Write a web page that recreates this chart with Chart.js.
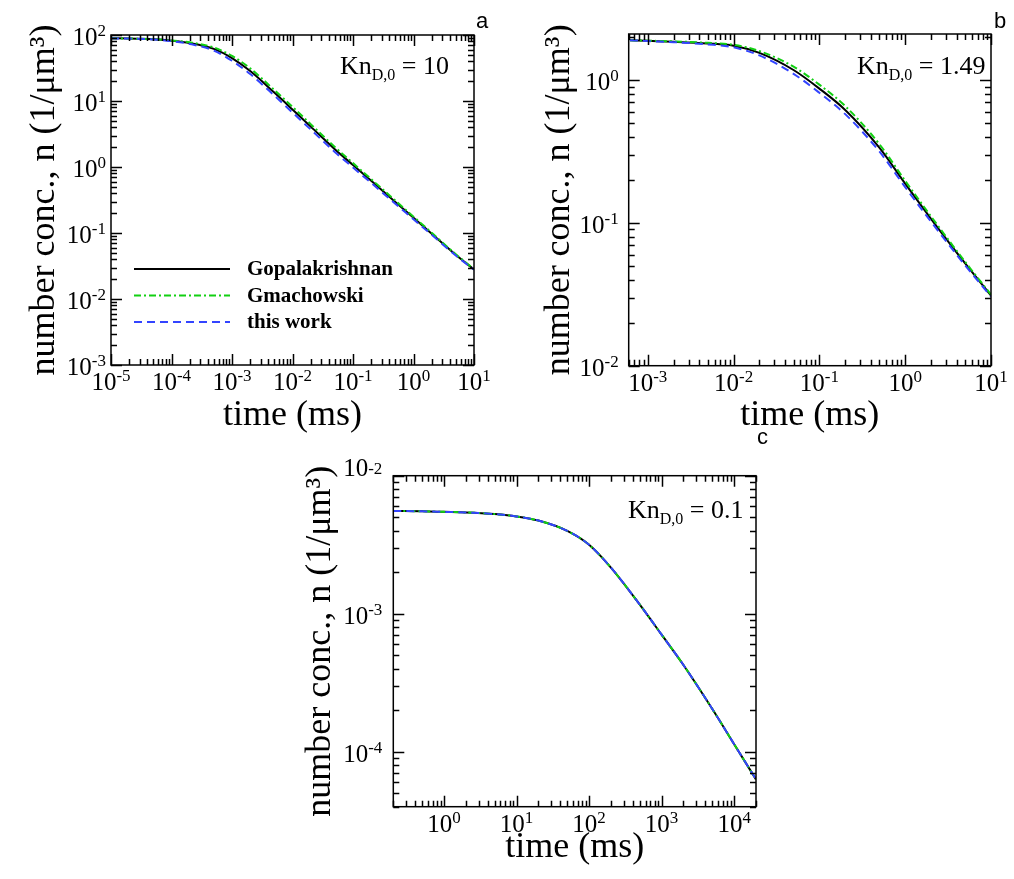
<!DOCTYPE html>
<html>
<head>
<meta charset="utf-8">
<script src="https://cdn.jsdelivr.net/npm/chart.js@4.4.1/dist/chart.umd.min.js"></script>
<style>
  html, body { margin: 0; padding: 0; background: #fff; }
  #wrap { position: relative; width: 1014px; height: 879px; overflow: hidden; }
  canvas { position: absolute; }
</style>
</head>
<body>
<div id="wrap">
  <canvas id="pa" width="507" height="440" style="left:0;top:0"></canvas>
  <canvas id="pb" width="507" height="440" style="left:507px;top:0"></canvas>
  <canvas id="pc" width="510" height="459" style="left:270px;top:420px"></canvas>
</div>
<script>
const SERIF = '"Liberation Serif", "Times New Roman", serif'
const SANS = '"Liberation Sans", Arial, sans-serif'

const seriesNames = ['Gopalakrishnan', 'Gmachowski', 'this work']
const knValues = ['10', '1.49', '0.1']
const panelLetters = ['a', 'b', 'c']

// panel a  (Kn = 10)
const timeA = [1e-5, 2e-5, 5e-5, 1e-4, 2e-4, 5e-4, 1e-3, 2e-3, 5e-3, 1e-2, 2e-2, 5e-2, 0.1, 0.2, 0.5, 1, 2, 5, 10]
const gopA  = [89.1, 88.5, 86.1, 82.0, 75.5, 61.7, 44.7, 28.4, 13.4, 7.43, 4.09, 1.86, 1.07, 0.617, 0.295, 0.17, 0.0977, 0.0468, 0.0280]
const gmaA  = [89.1, 88.5, 86.5, 82.8, 77.4, 64.8, 48.3, 31.2, 14.7, 8.17, 4.46, 2.01, 1.145, 0.654, 0.31, 0.177, 0.1006, 0.0477, 0.0284]
const thisA = [89.1, 88.3, 85.5, 80.8, 73.2, 58.0, 40.7, 25.6, 12.1, 6.69, 3.70, 1.69, 0.984, 0.574, 0.277, 0.1615, 0.0938, 0.0456, 0.0277]
const xTicksA = [-5, -4, -3, -2, -1, 0, 1]
const yTicksA = [-3, -2, -1, 0, 1, 2]

// panel b  (Kn = 1.49)
const timeB = [6.2e-4, 1e-3, 2e-3, 5e-3, 1e-2, 2e-2, 5e-2, 0.1, 0.2, 0.5, 1, 2, 5, 10]
const gopB  = [1.90, 1.88, 1.853, 1.803, 1.738, 1.549, 1.175, 0.871, 0.617, 0.336, 0.188, 0.1067, 0.052, 0.031]
const gmaB  = [1.90, 1.886, 1.864, 1.821, 1.764, 1.595, 1.240, 0.928, 0.657, 0.356, 0.197, 0.111, 0.0533, 0.0315]
const thisB = [1.90, 1.874, 1.840, 1.776, 1.695, 1.487, 1.105, 0.814, 0.577, 0.316, 0.178, 0.1019, 0.0504, 0.0305]
const xTicksB = [-3, -2, -1, 0, 1]
const yTicksB = [-2, -1, 0]

// panel c  (Kn = 0.1) - the three models coincide here
const timeC = [0.2, 0.5, 1, 2, 5, 10, 20, 50, 100, 200, 500, 1000, 2000, 5000, 10000, 20000]
const gopC  = [5.56e-3, 5.52e-3, 5.47e-3, 5.42e-3, 5.27e-3, 5.07e-3, 4.73e-3, 3.98e-3, 3.16e-3, 2.16e-3, 1.164e-3, 7.05e-4, 4.25e-4, 2.04e-4, 1.135e-4, 6.31e-5]
const gmaC  = [5.56e-3, 5.52e-3, 5.47e-3, 5.42e-3, 5.27e-3, 5.07e-3, 4.73e-3, 3.98e-3, 3.16e-3, 2.16e-3, 1.164e-3, 7.05e-4, 4.25e-4, 2.04e-4, 1.135e-4, 6.31e-5]
const thisC = [5.56e-3, 5.52e-3, 5.47e-3, 5.42e-3, 5.27e-3, 5.07e-3, 4.73e-3, 3.98e-3, 3.16e-3, 2.16e-3, 1.164e-3, 7.05e-4, 4.25e-4, 2.04e-4, 1.135e-4, 6.31e-5]
const xTicksC = [0, 1, 2, 3, 4]
const yTicksC = [-4, -3, -2]

const pts = (t, n) => t.map((v, i) => ({ x: v, y: n[i] }))

function logTicks(min, max) {
  const out = []
  for (let k = Math.floor(Math.log10(min)); k <= Math.ceil(Math.log10(max)); k++) {
    for (let m = 1; m < 10; m++) {
      const v = m * Math.pow(10, k)
      if (v >= min * 0.9999 && v <= max * 1.0001) out.push({ v, major: m === 1 })
    }
  }
  return out
}

// "10" with a raised exponent
function powLabel(ctx, x, y, e, align, flat) {
  ctx.textBaseline = 'alphabetic'
  ctx.textAlign = 'left'
  ctx.font = '25px ' + SERIF
  const w1 = ctx.measureText('10').width
  ctx.font = '17px ' + SERIF
  const w2 = ctx.measureText(String(e)).width
  const w = w1 + w2
  const x0 = align === 'center' ? x - w / 2 : x - w
  ctx.font = '25px ' + SERIF
  ctx.fillText('10', x0, y)
  ctx.font = '17px ' + SERIF
  ctx.fillText(String(e), x0 + w1, flat ? y - 2 : y - 9)
}

function knLabel(ctx, x, y, val) {
  ctx.textAlign = 'left'
  ctx.textBaseline = 'alphabetic'
  ctx.font = '26px ' + SERIF
  ctx.fillText('Kn', x, y)
  let w = ctx.measureText('Kn').width
  ctx.font = '16px ' + SERIF
  ctx.fillText('D,0', x + w, y + 6)
  w += ctx.measureText('D,0').width
  ctx.font = '26px ' + SERIF
  ctx.fillText(' = ' + val, x + w, y)
}

const deco = {
  id: 'deco',
  afterDatasetsDraw(chart, args, o) {
    const { ctx, chartArea: a, scales: { x, y } } = chart
    ctx.save()
    ctx.strokeStyle = '#000'
    ctx.lineWidth = 1.5
    ctx.setLineDash([])
    ctx.strokeRect(a.left, a.top, a.right - a.left, a.bottom - a.top)
    ctx.beginPath()
    for (const t of logTicks(x.min, x.max)) {
      const px = Math.round(x.getPixelForValue(t.v)) + 0.5
      const len = t.major ? 11 : 6
      ctx.moveTo(px, a.bottom); ctx.lineTo(px, a.bottom - len)
      ctx.moveTo(px, a.top); ctx.lineTo(px, a.top + len)
    }
    for (const t of logTicks(y.min, y.max)) {
      const py = Math.round(y.getPixelForValue(t.v)) + 0.5
      const len = t.major ? 11 : 6
      ctx.moveTo(a.left, py); ctx.lineTo(a.left + len, py)
      ctx.moveTo(a.right, py); ctx.lineTo(a.right - len, py)
    }
    ctx.stroke()

    ctx.fillStyle = '#000'
    o.xExp.forEach(e => powLabel(ctx, x.getPixelForValue(Math.pow(10, e)), a.bottom + 25, e, 'center'))
    o.yExp.forEach(e => {
      const flat = o.flatExp === e
      powLabel(ctx, a.left - o.yGap, y.getPixelForValue(Math.pow(10, e)) + (flat ? 0 : 10), e, 'right', flat)
    })

    knLabel(ctx, o.kn.x, o.kn.y, o.kn.text)

    ctx.font = '22px ' + SANS
    ctx.textAlign = 'left'
    ctx.textBaseline = 'alphabetic'
    ctx.fillText(o.letter.text, o.letter.x, o.letter.y)

    if (o.legend) {
      const L = o.legend
      chart.data.datasets.forEach((ds, i) => {
        const yy = L.y + i * L.step
        ctx.strokeStyle = ds.borderColor
        ctx.lineWidth = ds.borderWidth
        ctx.setLineDash(ds.borderDash || [])
        ctx.beginPath()
        ctx.moveTo(L.x0, yy); ctx.lineTo(L.x1, yy)
        ctx.stroke()
        ctx.setLineDash([])
        ctx.fillStyle = '#000'
        ctx.font = 'bold 21px ' + SERIF
        ctx.textBaseline = 'middle'
        ctx.fillText(ds.label, L.tx, yy + 1)
      })
    }
    ctx.restore()
  }
}

function panel(id, p) {
  const W = p.W, H = p.H, A = p.area
  return new Chart(document.getElementById(id), {
    type: 'line',
    data: {
      datasets: [
        { label: seriesNames[0], data: pts(p.t, p.gop), borderColor: '#000000', borderWidth: 2, order: 2 },
        { label: seriesNames[1], data: pts(p.t, p.gma), borderColor: '#12d012', borderWidth: 2, borderDash: [7, 3, 2, 3], order: 1 },
        { label: seriesNames[2], data: pts(p.t, p.tw), borderColor: '#3344ff', borderWidth: 2, borderDash: [8, 5], order: 0 }
      ]
    },
    options: {
      responsive: false,
      animation: false,
      events: [],
      elements: {
        point: { radius: 0 },
        line: { cubicInterpolationMode: 'monotone', fill: false }
      },
      layout: { padding: { left: 0, top: A.top, right: W - A.right, bottom: 0 } },
      scales: {
        x: {
          type: 'logarithmic', min: p.xMin, max: p.xMax,
          grid: { display: false }, border: { display: false }, ticks: { display: false },
          title: { display: true, text: 'time (ms)', color: '#000', font: { family: SERIF, size: 36 }, padding: { top: 0, bottom: p.xtPad } },
          afterFit: s => { s.height = H - A.bottom }
        },
        y: {
          type: 'logarithmic', min: p.yMin, max: p.yMax,
          grid: { display: false }, border: { display: false }, ticks: { display: false },
          title: { display: true, text: 'number conc., n (1/μm³)', color: '#000', font: { family: SERIF, size: 36 }, padding: { top: p.ytPad, bottom: 0 } },
          afterFit: s => { s.width = A.left }
        }
      },
      plugins: {
        legend: { display: false },
        tooltip: { enabled: false },
        deco: p.deco
      }
    },
    plugins: [deco]
  })
}

panel('pa', {
  W: 507, H: 440, area: { left: 111, right: 474, top: 35, bottom: 365 },
  t: timeA, gop: gopA, gma: gmaA, tw: thisA,
  xMin: 1e-5, xMax: 10, yMin: 1e-3, yMax: 100, xtPad: 2.4, ytPad: 23.4,
  deco: {
    xExp: xTicksA, yExp: yTicksA, yGap: 5,
    kn: { x: 340, y: 74, text: knValues[0] },
    letter: { text: panelLetters[0], x: 476, y: 28 },
    legend: { x0: 134, x1: 230, tx: 247, y: 269, step: 26.5 }
  }
})

panel('pb', {
  W: 507, H: 440, area: { left: 121.7, right: 484, top: 34, bottom: 365.7 },
  t: timeB, gop: gopB, gma: gmaB, tw: thisB,
  xMin: 6.2e-4, xMax: 10, yMin: 1e-2, yMax: 2.1, xtPad: 2.4, ytPad: 31.4,
  deco: {
    xExp: xTicksB, yExp: yTicksB, yGap: 10,
    kn: { x: 350, y: 74, text: knValues[1] },
    letter: { text: panelLetters[1], x: 487, y: 28 }
  }
})

panel('pc', {
  W: 510, H: 459, area: { left: 123.3, right: 486, top: 55.7, bottom: 386.7 },
  t: timeC, gop: gopC, gma: gmaC, tw: thisC,
  xMin: 0.2, xMax: 2e4, yMin: 4e-5, yMax: 1e-2, xtPad: 9.4, ytPad: 29.4,
  deco: {
    xExp: xTicksC, yExp: yTicksC, yGap: 11, flatExp: -2,
    kn: { x: 358, y: 98, text: knValues[2] },
    letter: { text: panelLetters[2], x: 487, y: 24 }
  }
})
</script>
</body>
</html>
